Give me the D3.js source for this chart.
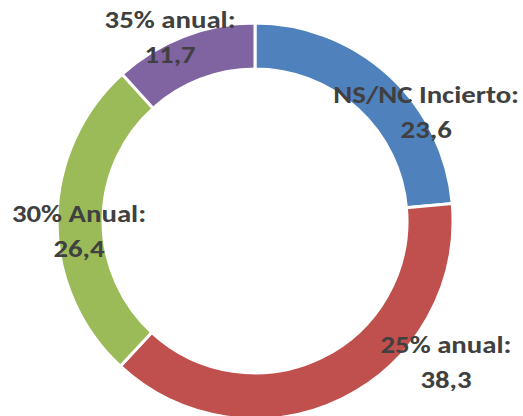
<!DOCTYPE html>
<html>
<head>
<meta charset="utf-8">
<script src="https://cdn.jsdelivr.net/npm/d3@7/dist/d3.min.js"></script>
<style>
  html, body { margin: 0; padding: 0; background: #fff; }
  svg { display: block; }
</style>
</head>
<body>
<div id="chart"></div>
<script>
const categories = ['NS/NC Incierto', '25% anual', '30% Anual', '35% anual'];
const values = [23.6, 38.3, 26.4, 11.7];
const valueLabels = ['23,6', '38,3', '26,4', '11,7'];
const colors = ['#4f81bd', '#c0504d', '#9bbb59', '#8064a2'];

// manual label nudges from the slice centroid (labels were dragged in the original)
const labelNudge = [[53, 28], [114, -8], [-1, 19], [-22, -13]];

const width = 523;
const height = 416;
const cx = 255;
const cy = 221;
const outerR = 198;
const innerR = 152;

const svg = d3.select('#chart')
  .append('svg')
  .attr('width', width)
  .attr('height', height);

const g = svg.append('g')
  .attr('transform', `translate(${cx},${cy})`);

const data = categories.map((c, i) => ({ name: c, value: values[i], label: valueLabels[i], color: colors[i] }));

const pie = d3.pie()
  .value(d => d.value)
  .sort(null);

const arc = d3.arc()
  .innerRadius(innerR)
  .outerRadius(outerR);

const arcs = pie(data);

g.selectAll('path.slice')
  .data(arcs)
  .enter()
  .append('path')
  .attr('class', 'slice')
  .attr('d', arc)
  .attr('fill', d => d.data.color)
  .attr('stroke', '#fff')
  .attr('stroke-width', 3);

// labels (Calibri is wider than Lato, so stretch a bit)
const labels = g.selectAll('text.lbl')
  .data(arcs)
  .enter()
  .append('text')
  .attr('class', 'lbl')
  .attr('text-anchor', 'middle')
  .attr('font-family', 'Carlito, Lato, sans-serif')
  .attr('font-weight', 'bold')
  .attr('font-size', 24)
  .attr('fill', '#404040')
  .attr('transform', (d, i) => {
    const [x, y] = arc.centroid(d);
    return `translate(${x + labelNudge[i][0]},${y + labelNudge[i][1]}) scale(1.2,1)`;
  });

labels.append('tspan')
  .attr('x', 0)
  .attr('y', -17)
  .text(d => d.data.name + ':');

labels.append('tspan')
  .attr('x', 0)
  .attr('y', 18)
  .text(d => d.data.label);
</script>
</body>
</html>
